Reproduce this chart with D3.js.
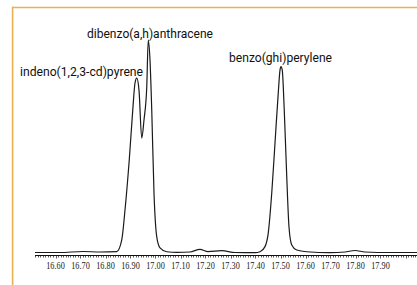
<!DOCTYPE html>
<html><head><meta charset="utf-8">
<script src="https://cdn.jsdelivr.net/npm/d3@7"></script>
<style>html,body{margin:0;padding:0;background:#fff;overflow:hidden}</style>
</head><body>
<svg id="c" width="417" height="285"></svg>
<script>
// Retention time (min) and detector response (% of largest peak)
const times = [16.518,16.618,16.71,16.778,16.845,16.865,16.878,16.895,16.909,16.918,16.925,16.934,16.945,16.954,16.965,16.971,16.978,16.985,16.994,17.005,17.018,17.045,17.085,17.138,17.178,17.21,17.265,17.318,17.398,17.418,17.438,17.451,17.465,17.478,17.491,17.498,17.502,17.507,17.515,17.525,17.534,17.545,17.565,17.605,17.698,17.758,17.798,17.838,17.938,18.046];
const response = [1.16,1.16,1.63,1.4,1.53,6.98,20.9,44.2,67.4,80,82.3,76.7,54.4,62.8,78.1,100,90.7,67.4,28.8,8.4,3.3,1.5,1.2,1.4,2.65,1.6,2.0,1.16,1.07,1.5,3.9,10.2,28.8,52.1,75.3,86,87.6,86,67.4,36.3,13,4.65,2.3,1.5,1.07,1.4,2.1,1.4,1.16,1.16];
const tickLabels = ["16.60","16.70","16.80","16.90","17.00","17.10","17.20","17.30","17.40","17.50","17.60","17.70","17.80","17.90"];
const peakNames = ["indeno(1,2,3-cd)pyrene","dibenzo(a,h)anthracene","benzo(ghi)perylene"];

const svg = d3.select("#c");
const W = 417, H = 285;
const x0 = 35, x1 = 417, axisY = 255;
const x = d3.scaleLinear().domain([16.518, 18.046]).range([x0, x1]);
const y = d3.scaleLinear().domain([0, 100]).range([axisY, 40]);

// orange frame
const frame = "#E9B250";
svg.append("line").attr("x1",12).attr("x2",W).attr("y1",7.5).attr("y2",7.5)
  .attr("stroke",frame).attr("stroke-width",1.6);
svg.append("line").attr("x1",12.6).attr("x2",12.6).attr("y1",6.7).attr("y2",H)
  .attr("stroke",frame).attr("stroke-width",1.6);

// axis
const g = svg.append("g");
g.append("line").attr("x1",x0).attr("x2",x1).attr("y1",axisY+0.5).attr("y2",axisY+0.5)
  .attr("stroke","#111").attr("stroke-width",1);
const minor = d3.range(Math.ceil(16.518*100), Math.floor(18.046*100)+1).map(d=>d/100);
g.selectAll("line.t").data(minor).join("line").attr("class","t")
  .attr("x1",d=>Math.round(x(d))+0.5).attr("x2",d=>Math.round(x(d))+0.5)
  .attr("y1",axisY+1).attr("y2",d=>axisY+ (Math.round(d*100)%10===0 ? 3.5 : 2.5))
  .attr("stroke","#333").attr("stroke-width",0.8);
g.selectAll("text.l").data(tickLabels).join("text").attr("class","l")
  .attr("x",d=>x(+d)).attr("y",269).attr("text-anchor","middle")
  .attr("font-family","'Liberation Serif','DejaVu Serif',serif").attr("font-size",11)
  .attr("textLength",18.5).attr("lengthAdjust","spacingAndGlyphs")
  .attr("fill","#222").text(d=>d);

// trace
const line = d3.line().x((d,i)=>x(times[i])).y((d,i)=>y(response[i])).curve(d3.curveMonotoneX);
svg.append("path").datum(response).attr("d",line).attr("fill","none")
  .attr("stroke","#1a1a1a").attr("stroke-width",1.2);

// peak labels
const lab = [
  {x:20, y:75.5, w:123, fs:13},
  {x:87, y:37.5, w:126, fs:13},
  {x:229, y:62, w:103, fs:13}
];
svg.selectAll("text.p").data(peakNames).join("text").attr("class","p")
  .attr("x",(d,i)=>lab[i].x).attr("y",(d,i)=>lab[i].y)
  .attr("font-family","'Liberation Sans Narrow','Roboto','Liberation Sans',sans-serif")
  .attr("font-size",(d,i)=>lab[i].fs)
  .attr("textLength",(d,i)=>lab[i].w).attr("lengthAdjust","spacingAndGlyphs")
  .attr("fill","#111").text(d=>d);
</script>
</body></html>
